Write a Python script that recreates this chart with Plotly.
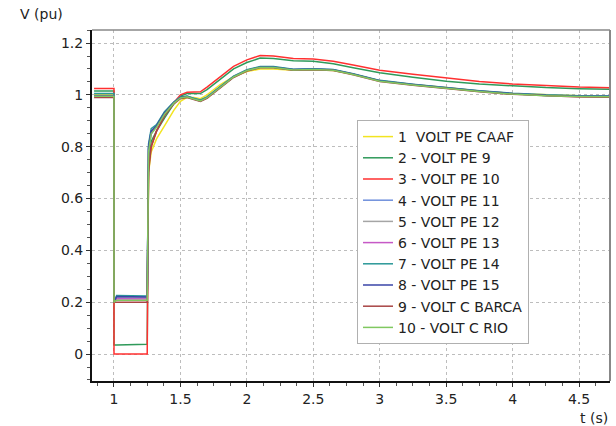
import plotly.graph_objects as go

# time points (s)
t = [0.85, 1.0, 1.0, 1.02, 1.25, 1.25, 1.26, 1.28, 1.32, 1.38, 1.45, 1.5, 1.55, 1.6, 1.65,
     1.7, 1.8, 1.9, 2.0, 2.1, 2.2, 2.35, 2.5, 2.65, 2.8, 3.0, 3.25, 3.5, 3.75, 4.0, 4.25, 4.5, 4.75]

names = ["1  VOLT PE CAAF", "2 - VOLT PE 9", "3 - VOLT PE 10", "4 - VOLT PE 11", "5 - VOLT PE 12",
         "6 - VOLT PE 13", "7 - VOLT PE 14", "8 - VOLT PE 15", "9 - VOLT C BARCA", "10 - VOLT C RIO"]
colors = ["#f2e421", "#2f9a5a", "#ff3030", "#6f8fdc", "#a5a5a5",
          "#c659c6", "#2a9898", "#3a45a8", "#a84444", "#80c860"]

v1 = [1.0, 1.0, 0.2, 0.215, 0.215, 0.215, 0.70, 0.78, 0.83, 0.88, 0.94, 0.975, 0.99, 0.99, 0.985,
      1.0, 1.04, 1.07, 1.09, 1.10, 1.10, 1.095, 1.097, 1.094, 1.08, 1.055, 1.04, 1.028, 1.015, 1.005, 1.0, 0.997, 0.995]
v2 = [1.015, 1.015, 0.035, 0.035, 0.038, 0.038, 0.73, 0.82, 0.86, 0.91, 0.965, 0.995, 1.005, 1.005, 1.005,
      1.02, 1.06, 1.10, 1.125, 1.142, 1.14, 1.132, 1.13, 1.12, 1.105, 1.085, 1.068, 1.053, 1.042, 1.034, 1.028, 1.024, 1.022]
v3 = [1.025, 1.025, 0.0, 0.0, 0.0, 0.0, 0.72, 0.80, 0.86, 0.92, 0.97, 1.0, 1.01, 1.01, 1.012,
      1.03, 1.07, 1.11, 1.135, 1.152, 1.15, 1.14, 1.138, 1.13, 1.115, 1.095, 1.08, 1.066, 1.052, 1.042, 1.035, 1.03, 1.027]
v4 = [0.998, 0.998, 0.2, 0.22, 0.22, 0.22, 0.80, 0.86, 0.88, 0.93, 0.97, 0.99, 0.995, 0.985, 0.978,
      0.99, 1.03, 1.07, 1.095, 1.108, 1.108, 1.098, 1.1, 1.097, 1.08, 1.055, 1.04, 1.027, 1.015, 1.005, 0.999, 0.996, 0.995]
v5 = [0.997, 0.997, 0.2, 0.215, 0.215, 0.215, 0.79, 0.85, 0.88, 0.93, 0.97, 0.99, 0.994, 0.984, 0.977,
      0.99, 1.03, 1.07, 1.094, 1.107, 1.107, 1.097, 1.099, 1.096, 1.08, 1.054, 1.039, 1.026, 1.014, 1.004, 0.998, 0.995, 0.994]
v6 = [0.997, 0.997, 0.2, 0.213, 0.212, 0.212, 0.79, 0.85, 0.88, 0.93, 0.97, 0.99, 0.994, 0.985, 0.978,
      0.99, 1.03, 1.07, 1.095, 1.107, 1.107, 1.098, 1.1, 1.097, 1.081, 1.055, 1.04, 1.027, 1.015, 1.005, 0.999, 0.996, 0.995]
v7 = [1.005, 1.005, 0.2, 0.226, 0.224, 0.224, 0.81, 0.87, 0.885, 0.935, 0.972, 0.992, 0.996, 0.987, 0.98,
      0.992, 1.032, 1.072, 1.097, 1.109, 1.109, 1.099, 1.101, 1.098, 1.082, 1.056, 1.041, 1.028, 1.016, 1.006, 1.0, 0.997, 0.996]
v8 = [0.996, 0.996, 0.2, 0.222, 0.22, 0.22, 0.80, 0.86, 0.88, 0.93, 0.97, 0.99, 0.993, 0.984, 0.977,
      0.989, 1.029, 1.069, 1.094, 1.107, 1.107, 1.097, 1.099, 1.096, 1.08, 1.054, 1.039, 1.026, 1.014, 1.004, 0.998, 0.995, 0.994]
v9 = [0.99, 0.99, 0.2, 0.2, 0.2, 0.2, 0.70, 0.80, 0.86, 0.92, 0.965, 0.985, 0.99, 0.982, 0.975,
      0.987, 1.027, 1.067, 1.092, 1.105, 1.105, 1.095, 1.097, 1.094, 1.078, 1.052, 1.037, 1.024, 1.012, 1.002, 0.996, 0.992, 0.991]
v10 = [0.995, 0.995, 0.2, 0.208, 0.208, 0.208, 0.78, 0.85, 0.875, 0.925, 0.968, 0.988, 0.993, 0.984, 0.977,
       0.989, 1.029, 1.069, 1.094, 1.106, 1.106, 1.096, 1.098, 1.095, 1.079, 1.053, 1.038, 1.025, 1.013, 1.003, 0.997, 0.994, 0.993]

series = [v1, v2, v3, v4, v5, v6, v7, v8, v9, v10]

x_ticks = [1, 1.5, 2, 2.5, 3, 3.5, 4, 4.5]
x_tick_text = ["1", "1.5", "2", "2.5", "3", "3.5", "4", "4.5"]
y_ticks = [0, 0.2, 0.4, 0.6, 0.8, 1.0, 1.2]
y_tick_text = ["0", "0.2", "0.4", "0.6", "0.8", "1", "1.2"]

fig = go.Figure()
for name, col, v in zip(names, colors, series):
    fig.add_trace(go.Scatter(x=t, y=v, mode="lines", name=name,
                             line=dict(color=col, width=1.5)))

FONT = "DejaVu Sans"
GRID = dict(showgrid=True, gridcolor="#bdbdbd", griddash="dot", gridwidth=1,
            zeroline=False, showline=True, linecolor="#111111", linewidth=2,
            ticks="outside", ticklen=4, tickcolor="#333333")
fig.update_layout(
    width=616, height=426,
    margin=dict(l=92, r=6, t=30, b=45),
    paper_bgcolor="white", plot_bgcolor="white",
    font=dict(family=FONT, size=14, color="#222222"),
    showlegend=True,
    legend=dict(x=0.5116, y=0.7436, xanchor="left", yanchor="top",
                bgcolor="white", bordercolor="#b0b0b0", borderwidth=1,
                font=dict(family=FONT, size=14, color="#222222"),
                tracegroupgap=0, itemwidth=30),
    xaxis=dict(range=[0.8345, 4.733], tickvals=x_ticks, ticktext=x_tick_text,
               minor=dict(dtick=0.125, tick0=1, ticks="outside", ticklen=3,
                          tickcolor="#555555", showgrid=False), **GRID),
    yaxis=dict(range=[-0.104, 1.2503], tickvals=y_ticks, ticktext=y_tick_text,
               minor=dict(dtick=0.05, tick0=0, ticks="outside", ticklen=3,
                          tickcolor="#555555", showgrid=False), **GRID),
    shapes=[dict(type="line", xref="paper", yref="paper", x0=0, x1=1, y0=1, y1=1,
                 line=dict(color="#888888", width=1.5)),
            dict(type="line", xref="paper", yref="paper", x0=1, x1=1, y0=0, y1=1,
                 line=dict(color="#888888", width=2))],
    annotations=[
        dict(text="V (pu)", xref="paper", yref="paper", x=-0.1429, y=1.017,
             xanchor="left", yanchor="bottom", showarrow=False, font=dict(size=14)),
        dict(text="t (s)", xref="paper", yref="paper", x=1.0, y=-0.0769,
             xanchor="right", yanchor="top", showarrow=False, font=dict(size=14)),
    ],
)

fig.write_html("out.html", config={"displayModeBar": False},
               post_script="document.body.style.margin='0px';")
